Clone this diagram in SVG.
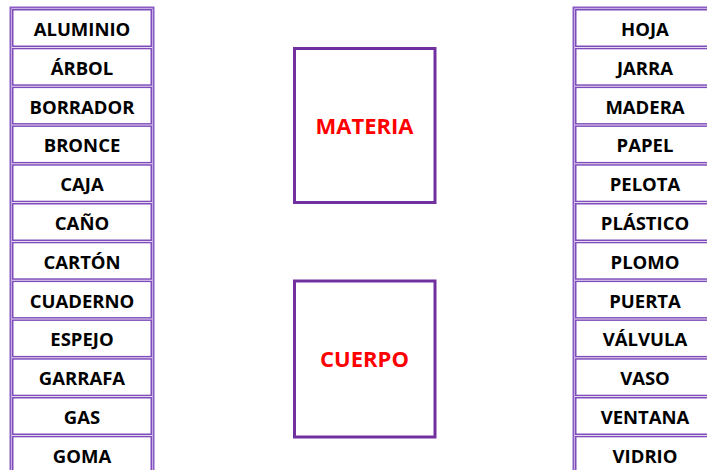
<svg xmlns="http://www.w3.org/2000/svg" width="707" height="470" viewBox="0 0 707 470">
  <style>
    .frame { fill: #ffffff; stroke: #8a5cc4; stroke-width: 2; }
    .cell { fill: #ffffff; stroke: #7f4dbb; stroke-width: 1.5; }
    .item { font-family: "Open Sans", "DejaVu Sans", sans-serif; font-weight: bold; font-size: 18.5px; fill: #000000; text-anchor: middle; }
    .box { fill: #ffffff; stroke: #7030a0; stroke-width: 3; }
    .title { font-family: "Open Sans", "DejaVu Sans", sans-serif; font-weight: bold; font-size: 22px; fill: #ff0000; text-anchor: middle; }
  </style>
  <rect width="707" height="470" fill="#ffffff"/>

  <!-- left word list -->
  <g id="list-left">
    <rect class="frame" x="10.5" y="7.5" width="143" height="470"/>
    <g id="l1"><rect class="cell" x="12.75" y="9.75" width="138.5" height="36.5"/><text class="item" x="82" y="36">ALUMINIO</text></g>
    <g id="l2"><rect class="cell" x="12.75" y="48.55" width="138.5" height="36.5"/><text class="item" x="82" y="74.8">ÁRBOL</text></g>
    <g id="l3"><rect class="cell" x="12.75" y="87.35" width="138.5" height="36.5"/><text class="item" x="82" y="113.6">BORRADOR</text></g>
    <g id="l4"><rect class="cell" x="12.75" y="126.15" width="138.5" height="36.5"/><text class="item" x="82" y="152.4">BRONCE</text></g>
    <g id="l5"><rect class="cell" x="12.75" y="164.95" width="138.5" height="36.5"/><text class="item" x="82" y="191.2">CAJA</text></g>
    <g id="l6"><rect class="cell" x="12.75" y="203.75" width="138.5" height="36.5"/><text class="item" x="82" y="230">CAÑO</text></g>
    <g id="l7"><rect class="cell" x="12.75" y="242.55" width="138.5" height="36.5"/><text class="item" x="82" y="268.8">CARTÓN</text></g>
    <g id="l8"><rect class="cell" x="12.75" y="281.35" width="138.5" height="36.5"/><text class="item" x="82" y="307.6">CUADERNO</text></g>
    <g id="l9"><rect class="cell" x="12.75" y="320.15" width="138.5" height="36.5"/><text class="item" x="82" y="346.4">ESPEJO</text></g>
    <g id="l10"><rect class="cell" x="12.75" y="358.95" width="138.5" height="36.5"/><text class="item" x="82" y="385.2">GARRAFA</text></g>
    <g id="l11"><rect class="cell" x="12.75" y="397.75" width="138.5" height="36.5"/><text class="item" x="82" y="424">GAS</text></g>
    <g id="l12"><rect class="cell" x="12.75" y="436.55" width="138.5" height="36.5"/><text class="item" x="82" y="462.8">GOMA</text></g>
  </g>

  <!-- right word list -->
  <g id="list-right">
    <rect class="frame" x="573.5" y="7.5" width="143" height="470"/>
    <g id="r1"><rect class="cell" x="575.75" y="9.75" width="138.5" height="36.5"/><text class="item" x="645" y="36">HOJA</text></g>
    <g id="r2"><rect class="cell" x="575.75" y="48.55" width="138.5" height="36.5"/><text class="item" x="645" y="74.8">JARRA</text></g>
    <g id="r3"><rect class="cell" x="575.75" y="87.35" width="138.5" height="36.5"/><text class="item" x="645" y="113.6">MADERA</text></g>
    <g id="r4"><rect class="cell" x="575.75" y="126.15" width="138.5" height="36.5"/><text class="item" x="645" y="152.4">PAPEL</text></g>
    <g id="r5"><rect class="cell" x="575.75" y="164.95" width="138.5" height="36.5"/><text class="item" x="645" y="191.2">PELOTA</text></g>
    <g id="r6"><rect class="cell" x="575.75" y="203.75" width="138.5" height="36.5"/><text class="item" x="645" y="230">PLÁSTICO</text></g>
    <g id="r7"><rect class="cell" x="575.75" y="242.55" width="138.5" height="36.5"/><text class="item" x="645" y="268.8">PLOMO</text></g>
    <g id="r8"><rect class="cell" x="575.75" y="281.35" width="138.5" height="36.5"/><text class="item" x="645" y="307.6">PUERTA</text></g>
    <g id="r9"><rect class="cell" x="575.75" y="320.15" width="138.5" height="36.5"/><text class="item" x="645" y="346.4">VÁLVULA</text></g>
    <g id="r10"><rect class="cell" x="575.75" y="358.95" width="138.5" height="36.5"/><text class="item" x="645" y="385.2">VASO</text></g>
    <g id="r11"><rect class="cell" x="575.75" y="397.75" width="138.5" height="36.5"/><text class="item" x="645" y="424">VENTANA</text></g>
    <g id="r12"><rect class="cell" x="575.75" y="436.55" width="138.5" height="36.5"/><text class="item" x="645" y="462.8">VIDRIO</text></g>
  </g>

  <!-- category boxes -->
  <g id="materia">
    <rect class="box" x="294.5" y="48.5" width="140.5" height="154"/>
    <text class="title" x="364.5" y="133.5">MATERIA</text>
  </g>
  <g id="cuerpo">
    <rect class="box" x="294.5" y="281" width="140.5" height="156"/>
    <text class="title" x="364.5" y="366.5">CUERPO</text>
  </g>

  <!-- no connectors are drawn between the lists and the boxes -->
  <g id="connectors"></g>
</svg>
